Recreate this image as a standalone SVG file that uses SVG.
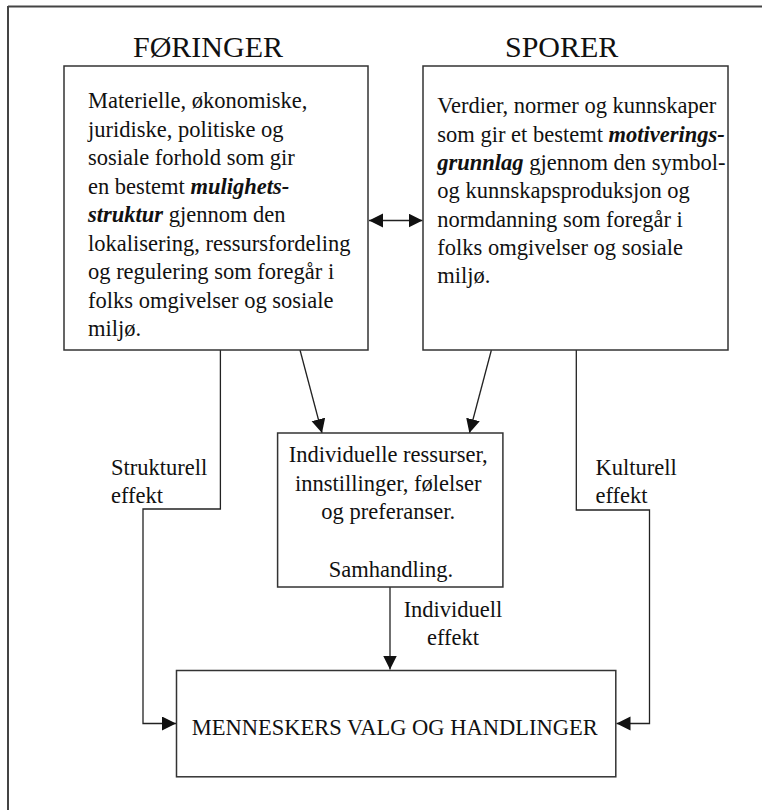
<svg xmlns="http://www.w3.org/2000/svg" width="762" height="810" viewBox="0 0 762 810">
<style>
  text { font-family: "Liberation Serif", "Times New Roman", serif; fill: #111; }
  .t { font-size: 22.5px; }
  .title { font-size: 30px; }
  .bi { font-weight: bold; font-style: italic; }
  .box { fill: #fff; stroke: #333; stroke-width: 1.5; }
  .frame { stroke: #444; stroke-width: 2; fill: none; }
  .con { fill: none; stroke: #222; stroke-width: 1.3; }
</style>
<defs>
  <marker id="ah" markerUnits="userSpaceOnUse" markerWidth="16" markerHeight="16" refX="14" refY="7" orient="auto-start-reverse">
    <path d="M0,0 L14,7 L0,14 z" fill="#111"/>
  </marker>
</defs>
<rect width="762" height="810" fill="#fff"/>
<g id="frame">
  <line class="frame" x1="8" y1="6.5" x2="762" y2="6.5"/>
  <line class="frame" x1="8" y1="6" x2="8" y2="810"/>
</g>
<g id="connectors">
  <line class="con" x1="369" y1="220.5" x2="422.5" y2="220.5" marker-start="url(#ah)" marker-end="url(#ah)"/>
  <line class="con" x1="300" y1="350" x2="322" y2="433" marker-end="url(#ah)"/>
  <line class="con" x1="491.4" y1="350" x2="469.4" y2="433" marker-end="url(#ah)"/>
  <polyline class="con" points="220.4,350 220.4,509 143,509 143,723.5 176,723.5" marker-end="url(#ah)"/>
  <polyline class="con" points="576.3,350 576.3,510 649.5,510 649.5,723.5 616.5,723.5" marker-end="url(#ah)"/>
  <line class="con" x1="390" y1="587" x2="390" y2="669.5" marker-end="url(#ah)"/>
</g>
<g id="labels">
  <text class="t" x="111" y="475">Strukturell</text>
  <text class="t" x="111" y="503">effekt</text>
  <text class="t" x="595.5" y="475">Kulturell</text>
  <text class="t" x="595.5" y="503">effekt</text>
  <text class="t" x="453" y="616.7" text-anchor="middle">Individuell</text>
  <text class="t" x="453" y="645" text-anchor="middle">effekt</text>
</g>
<g id="foringer">
  <text class="title" x="208" y="56.7" text-anchor="middle">FØRINGER</text>
  <rect class="box" x="64" y="66" width="304" height="284"/>
  <text class="t">
    <tspan x="88" y="108.3">Materielle, økonomiske,</tspan>
    <tspan x="88" y="136.8">juridiske, politiske og</tspan>
    <tspan x="88" y="165.3">sosiale forhold som gir</tspan>
    <tspan x="88" y="193.8">en bestemt <tspan class="bi">mulighets-</tspan></tspan>
    <tspan x="88" y="222.3"><tspan class="bi">struktur</tspan> gjennom den</tspan>
    <tspan x="88" y="250.8">lokalisering, ressursfordeling</tspan>
    <tspan x="88" y="279.3">og regulering som foregår i</tspan>
    <tspan x="88" y="307.8">folks omgivelser og sosiale</tspan>
    <tspan x="88" y="336.3">miljø.</tspan>
  </text>
</g>
<g id="sporer">
  <text class="title" x="561.7" y="56.7" text-anchor="middle">SPORER</text>
  <rect class="box" x="423" y="66" width="305" height="284"/>
  <text class="t">
    <tspan x="437.3" y="113.3">Verdier, normer og kunnskaper</tspan>
    <tspan x="437.3" y="141.7">som gir et bestemt <tspan class="bi">motiverings-</tspan></tspan>
    <tspan x="437.3" y="170"><tspan class="bi">grunnlag</tspan> gjennom den symbol-</tspan>
    <tspan x="437.3" y="198.3">og kunnskapsproduksjon og</tspan>
    <tspan x="437.3" y="226.7">normdanning som foregår i</tspan>
    <tspan x="437.3" y="255">folks omgivelser og sosiale</tspan>
    <tspan x="437.3" y="283.3">miljø.</tspan>
  </text>
</g>
<g id="individ">
  <rect class="box" x="277.6" y="433" width="225.3" height="154"/>
  <text class="t" text-anchor="middle">
    <tspan x="391" y="461.7">Individuelle ressurser,</tspan>
    <tspan x="391" y="490.7">innstillinger, følelser</tspan>
    <tspan x="391" y="519">og preferanser.</tspan>
    <tspan x="391" y="576.7">Samhandling.</tspan>
  </text>
</g>
<g id="valg">
  <rect class="box" x="176.5" y="670.5" width="439.3" height="106.3"/>
  <text class="t" x="394.7" y="735" text-anchor="middle">MENNESKERS VALG OG HANDLINGER</text>
</g>
</svg>
